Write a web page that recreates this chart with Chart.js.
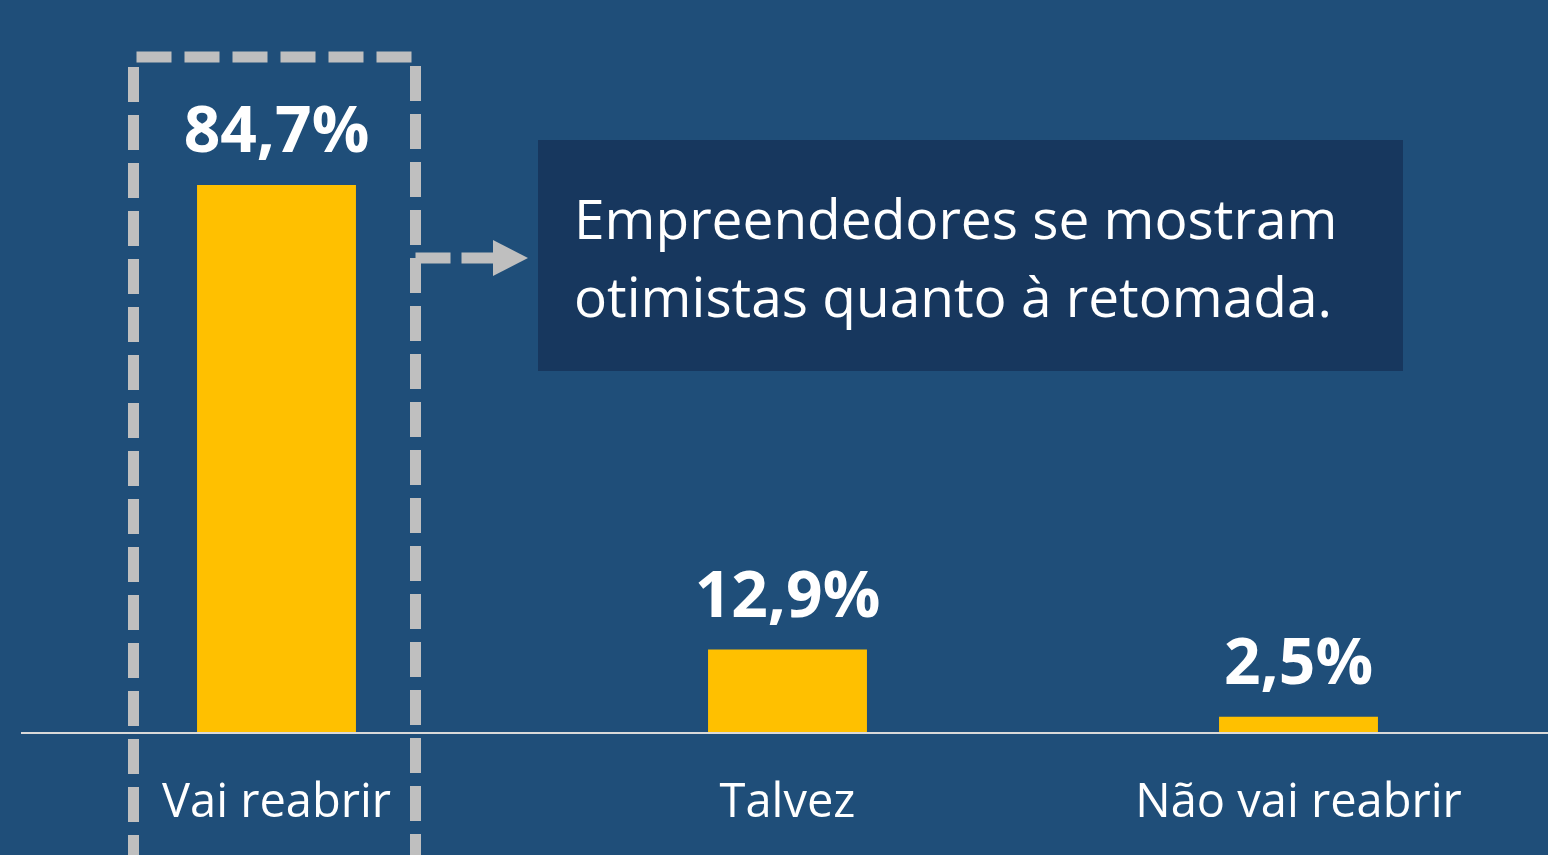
<!DOCTYPE html>
<html>
<head>
<meta charset="utf-8">
<script src="https://cdn.jsdelivr.net/npm/chart.js@4"></script>
<style>
  html, body { margin: 0; padding: 0; background: #1F4E79; overflow: hidden; }
  #wrap { width: 1554px; height: 855px; position: relative; }
</style>
</head>
<body>
<div id="wrap"><canvas id="chart"></canvas></div>
<script>
let categories = ["Vai reabrir", "Talvez", "Não vai reabrir"]
let shares = [84.7, 12.9, 2.5]
let shareLabels = ["84,7%", "12,9%", "2,5%"]
let noteLines = ["Empreendedores se mostram", "otimistas quanto à retomada."]

let fontName = "'Open Sans', Lato, sans-serif"

// value labels above bars
const valueLabels = {
  id: "valueLabels",
  afterDatasetsDraw(chart) {
    const ctx = chart.ctx
    const meta = chart.getDatasetMeta(0)
    ctx.save()
    ctx.fillStyle = "#FFFFFF"
    ctx.font = "bold 64px " + fontName
    ctx.textAlign = "center"
    ctx.textBaseline = "alphabetic"
    meta.data.forEach((bar, i) => {
      ctx.fillText(shareLabels[i], bar.x, bar.y - 33)
    })
    ctx.restore()
  }
}

// baseline, dashed highlight box, arrow and note
const extras = {
  id: "extras",
  afterDraw(chart) {
    const ctx = chart.ctx
    const x = chart.scales.x
    const area = chart.chartArea
    ctx.save()

    // baseline
    ctx.strokeStyle = "#D9D9D9"
    ctx.lineWidth = 2
    ctx.beginPath()
    ctx.moveTo(area.left, area.bottom)
    ctx.lineTo(area.right, area.bottom)
    ctx.stroke()

    // dashed box around first bar
    const cx = x.getPixelForValue(0)
    const boxL = cx - 143, boxR = cx + 139
    ctx.strokeStyle = "#BFBFBF"
    ctx.lineWidth = 11
    ctx.setLineDash([35, 13])
    ctx.beginPath()
    ctx.moveTo(boxL, 870)
    ctx.lineTo(boxL, 57)
    ctx.lineTo(boxR, 57)
    ctx.lineTo(boxR, 870)
    ctx.stroke()

    // arrow
    ctx.beginPath()
    ctx.setLineDash([35, 11])
    ctx.moveTo(boxR, 258)
    ctx.lineTo(494, 258)
    ctx.stroke()
    ctx.setLineDash([])
    ctx.fillStyle = "#BFBFBF"
    ctx.beginPath()
    ctx.moveTo(493, 240)
    ctx.lineTo(528, 258)
    ctx.lineTo(493, 276)
    ctx.closePath()
    ctx.fill()

    // note box
    ctx.fillStyle = "#17375E"
    ctx.fillRect(538, 140, 865, 231)
    ctx.fillStyle = "#FFFFFF"
    ctx.font = "55px " + fontName
    ctx.textAlign = "left"
    ctx.textBaseline = "alphabetic"
    ctx.fillText(noteLines[0], 574, 239)
    ctx.fillText(noteLines[1], 574, 317)
    ctx.restore()
  }
}

new Chart(document.getElementById("chart"), {
  type: "bar",
  data: {
    labels: categories,
    datasets: [{
      data: shares,
      backgroundColor: "#FFC000",
      borderWidth: 0,
      barPercentage: 1,
      categoryPercentage: 0.311
    }]
  },
  options: {
    responsive: true,
    maintainAspectRatio: false,
    animation: false,
    layout: { padding: { left: 21, right: 0, top: 0, bottom: 0 } },
    plugins: { legend: { display: false }, tooltip: { enabled: false } },
    scales: {
      x: {
        grid: { display: false, drawTicks: false },
        border: { display: false },
        ticks: { color: "#FFFFFF", font: { family: fontName, size: 47 }, padding: 42 },
        afterFit(scale) { scale.height = 122 }
      },
      y: {
        display: false,
        min: 0,
        max: 113.3
      }
    }
  },
  plugins: [valueLabels, extras]
});
</script>
</body>
</html>
